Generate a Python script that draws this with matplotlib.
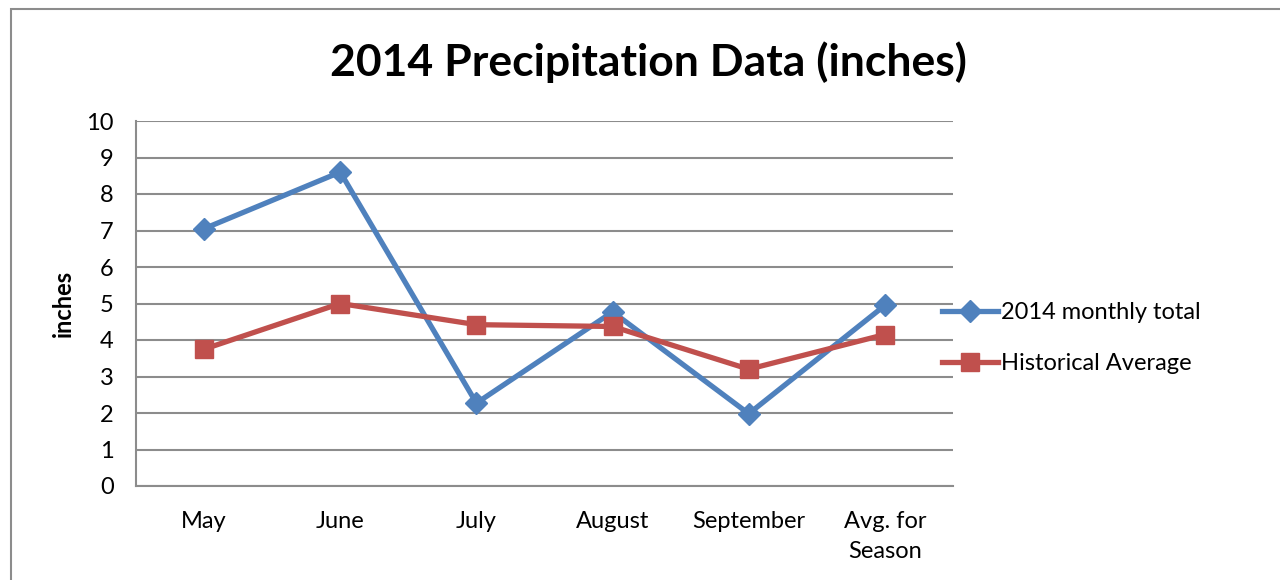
import matplotlib.pyplot as plt
from matplotlib.patches import Rectangle

categories = ["May", "June", "July", "August", "September", "Avg. for\nSeason"]
monthly_2014 = [7.05, 8.6, 2.27, 4.77, 1.98, 4.95]
historical_avg = [3.75, 5.0, 4.42, 4.37, 3.2, 4.15]
y_ticks = list(range(0, 11))

plt.rcParams['font.family'] = ['Lato', 'DejaVu Sans']

fig = plt.figure(figsize=(12.8, 5.8), dpi=100)

# outer chart border (runs off right/bottom edge in the original)
fig.patches.append(Rectangle((11 / 1280, -0.05), 1.2, (580 - 9) / 580 + 0.05,
                             transform=fig.transFigure, fill=False,
                             edgecolor="#8c8c8c", linewidth=1.5))

ax = fig.add_axes([136 / 1280, (580 - 486) / 580, 817 / 1280, 365 / 580])
x = list(range(len(categories)))

ax.plot(x, monthly_2014, color="#4F81BD", linewidth=3.8, marker="D",
        markersize=11, label="2014 monthly total", zorder=3)
ax.plot(x, historical_avg, color="#C0504D", linewidth=3.8, marker="s",
        markersize=13, label="Historical Average", zorder=3)

ax.set_xlim(-0.5, len(categories) - 0.5)
ax.set_ylim(0, 10)
ax.set_yticks(y_ticks)
ax.set_xticks(x)
ax.set_xticklabels(categories, fontsize=17, linespacing=1.5)
ax.tick_params(axis="y", labelsize=17, length=0, pad=16)
ax.tick_params(axis="x", length=0, pad=18)
ax.yaxis.grid(True, color="#8c8c8c", linewidth=1.5)
ax.set_axisbelow(True)
for side in ["top", "right"]:
    ax.spines[side].set_visible(False)
for side in ["left", "bottom"]:
    ax.spines[side].set_color("#8c8c8c")
    ax.spines[side].set_linewidth(1.5)

ax.set_ylabel("inches", fontsize=17, fontweight="bold", labelpad=8)

fig.text(648 / 1280, 1 - 62 / 580, "2014 Precipitation Data (inches)",
         fontsize=32, fontweight="bold", ha="center", va="center")

ax.legend(loc="center left", bbox_to_anchor=(0.96, 0.405), frameon=False,
          fontsize=17, handlelength=2.4, handletextpad=0.1, labelspacing=1.25)

fig.savefig("out.png", dpi=100, facecolor="white")
